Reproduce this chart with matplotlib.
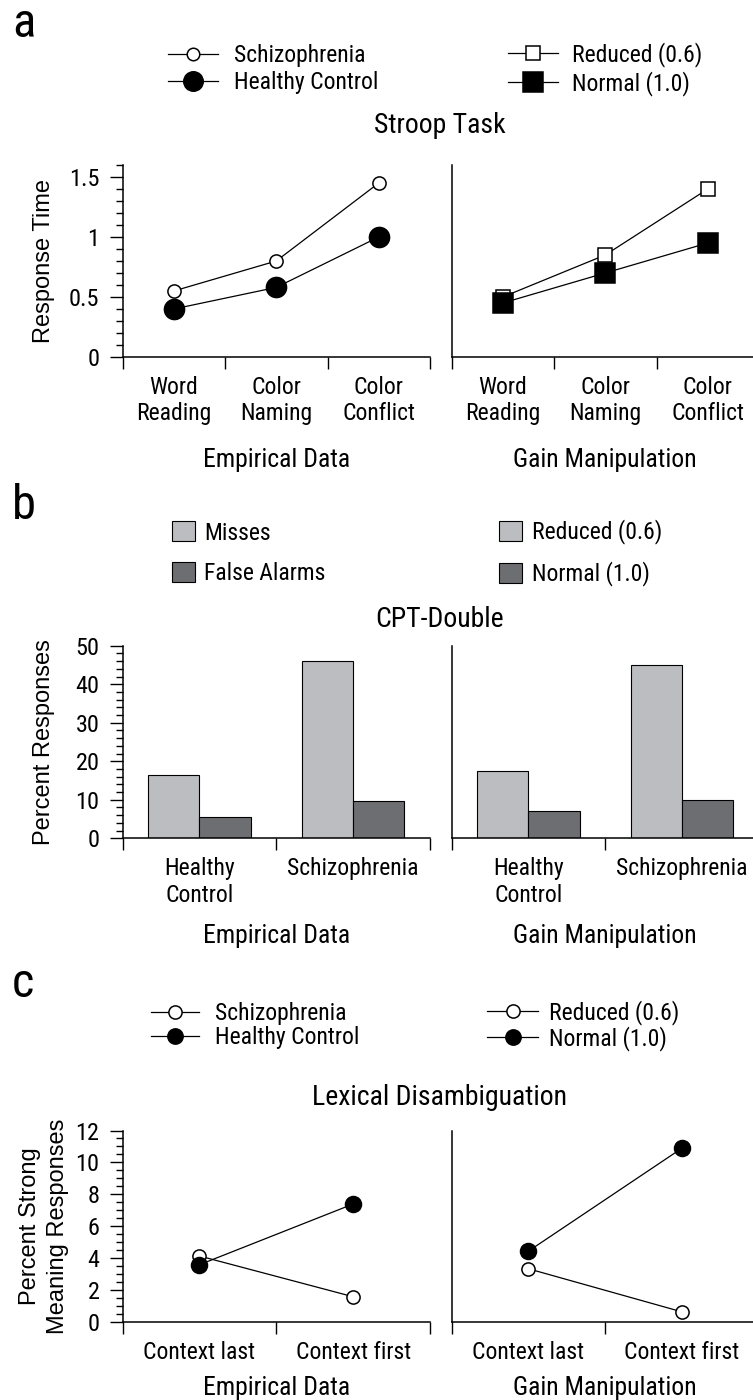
import matplotlib
matplotlib.use("Agg")
import matplotlib.pyplot as plt
from matplotlib import font_manager
from matplotlib.font_manager import FontProperties
from matplotlib.lines import Line2D
from matplotlib.patches import Patch
from matplotlib.ticker import MultipleLocator, FuncFormatter

# panel a: Stroop task
stroop_tasks = ["Word\nReading", "Color\nNaming", "Color\nConflict"]
stroop_schizophrenia = [0.55, 0.80, 1.45]
stroop_healthy = [0.40, 0.58, 1.00]
stroop_reduced = [0.50, 0.85, 1.40]
stroop_normal = [0.45, 0.70, 0.95]

# panel b: CPT-Double
cpt_groups = ["Healthy\nControl", "Schizophrenia"]
cpt_misses_empirical = [16.5, 46.0]
cpt_false_alarms_empirical = [5.5, 9.7]
cpt_misses_gain = [17.6, 45.0]
cpt_false_alarms_gain = [7.1, 10.0]

# panel c: lexical disambiguation
lexical_conditions = ["Context last", "Context first"]
lexical_schizophrenia = [4.15, 1.6]
lexical_healthy = [3.6, 7.4]
lexical_reduced = [3.35, 0.65]
lexical_normal = [4.45, 10.9]

FIG_W, FIG_H, DPI = 753, 1400, 100
AX_W = 307.5
LEFT_X = 122.5
RIGHT_X = 451.5
LIGHT = "#bcbdc0"
DARK = "#6d6e72"


def pick_font(names):
    for name in names:
        try:
            font_manager.findfont(FontProperties(family=name), fallback_to_default=False)
            return name
        except ValueError:
            continue
    return "DejaVu Sans"


NARROW = pick_font(["Roboto Condensed", "Archivo Narrow", "Liberation Sans Narrow", "DejaVu Sans"])
REGULAR = pick_font(["Liberation Sans", "DejaVu Sans"])
plt.rcParams["font.family"] = [NARROW, "DejaVu Sans"]


def fx(x):
    return x / FIG_W


def fy(y):
    return 1 - y / FIG_H


def add_axes(fig, x0, top, zero):
    return fig.add_axes([fx(x0), fy(zero), AX_W / FIG_W, (zero - top) / FIG_H])


def style_axes(ax, labels, ymax, major=None, minor=None, show_y=True):
    n = len(labels)
    ax.set_xlim(0, n)
    ax.set_ylim(0, ymax)
    for side in ("top", "right"):
        ax.spines[side].set_visible(False)
    for side in ("left", "bottom"):
        ax.spines[side].set_linewidth(1.1)
    ax.set_xticks(range(n + 1))
    ax.set_xticklabels([])
    ax.set_xticks([i + 0.5 for i in range(n)], labels, minor=True)
    ax.tick_params(axis="x", which="major", direction="out", length=8.5, width=1.0)
    ax.tick_params(axis="x", which="minor", length=0, pad=13.5, labelsize=17)
    if show_y:
        ax.yaxis.set_major_locator(MultipleLocator(major))
        ax.yaxis.set_minor_locator(MultipleLocator(minor))
        ax.yaxis.set_major_formatter(FuncFormatter(lambda v, _: f"{v:g}"))
        ax.tick_params(axis="y", which="major", direction="out", length=9.5, width=1.0, pad=7, labelsize=17.5)
        ax.tick_params(axis="y", which="minor", direction="out", length=5, width=1.0)
    else:
        ax.tick_params(axis="y", which="both", left=False, labelleft=False)
    ax.patch.set_alpha(0)


def line(ax, xs, ys, filled, marker, size):
    ax.plot(xs, ys, color="k", lw=0.9, marker=marker, ms=size,
            mfc="k" if filled else "white", mec="k", mew=1.1, clip_on=False, zorder=3)


def add_legend(fig, handles, labels, x, y, **kw):
    fig.legend(handles, labels, loc="center left", bbox_to_anchor=(fx(x), fy(y)),
               frameon=False, borderpad=0, borderaxespad=0, fontsize=17, **kw)


def mk(marker, filled, size):
    return Line2D([], [], color="k", lw=0.9, marker=marker, ms=size,
                  mfc="k" if filled else "white", mec="k", mew=1.1)


def text(fig, x, y, s, **kw):
    fig.text(fx(x), fy(y), s, **kw)


fig = plt.figure(figsize=(FIG_W / DPI, FIG_H / DPI), dpi=DPI)

# ---- a ----
centers3 = [i + 0.5 for i in range(len(stroop_tasks))]
ax = add_axes(fig, LEFT_X, 165, 357)
style_axes(ax, stroop_tasks, 1.6, 0.5, 0.1)
line(ax, centers3, stroop_schizophrenia, False, "o", 9.5)
line(ax, centers3, stroop_healthy, True, "o", 14.5)
ax = add_axes(fig, RIGHT_X, 165, 357)
style_axes(ax, stroop_tasks, 1.6, show_y=False)
line(ax, centers3, stroop_reduced, False, "s", 9.5)
line(ax, centers3, stroop_normal, True, "s", 14.5)

add_legend(fig, [mk("o", False, 9), mk("o", True, 14)], ["Schizophrenia", "Healthy Control"],
           168, 69, handlelength=2.1, handletextpad=0.68, labelspacing=0.17)
add_legend(fig, [mk("s", False, 9.5), mk("s", True, 14)], ["Reduced (0.6)", "Normal (1.0)"],
           508, 69, handlelength=2.1, handletextpad=0.6, labelspacing=0.17)

# ---- b ----
for x0, misses, fas, show in [(LEFT_X, cpt_misses_empirical, cpt_false_alarms_empirical, True),
                              (RIGHT_X, cpt_misses_gain, cpt_false_alarms_gain, False)]:
    ax = add_axes(fig, x0, 645.7, 838.3)
    style_axes(ax, cpt_groups, 50, 10, 2, show_y=show)
    idx = range(len(cpt_groups))
    ax.bar([i + 1 / 3 for i in idx], misses, width=1 / 3, color=LIGHT, edgecolor="k", lw=0.8, zorder=2)
    ax.bar([i + 2 / 3 for i in idx], fas, width=1 / 3, color=DARK, edgecolor="k", lw=0.8, zorder=2)

patch_kw = dict(handlelength=0.97, handleheight=0.93, labelspacing=0.72)
add_legend(fig, [Patch(fc=LIGHT, ec="k", lw=0.8), Patch(fc=DARK, ec="k", lw=0.8)],
           ["Misses", "False Alarms"], 172, 553, handletextpad=0.38, **patch_kw)
add_legend(fig, [Patch(fc=LIGHT, ec="k", lw=0.8), Patch(fc=DARK, ec="k", lw=0.8)],
           ["Reduced (0.6)", "Normal (1.0)"], 499, 553, handletextpad=0.42, **patch_kw)

# ---- c ----
centers2 = [i + 0.5 for i in range(len(lexical_conditions))]
ax = add_axes(fig, LEFT_X, 1130.5, 1322.3)
style_axes(ax, lexical_conditions, 12, 2, 0.5)
line(ax, centers2, lexical_schizophrenia, False, "o", 9.5)
line(ax, centers2, lexical_healthy, True, "o", 11.5)
ax = add_axes(fig, RIGHT_X, 1130.5, 1322.3)
style_axes(ax, lexical_conditions, 12, show_y=False)
line(ax, centers2, lexical_reduced, False, "o", 9.5)
line(ax, centers2, lexical_normal, True, "o", 11.5)

add_legend(fig, [mk("o", False, 9.5), mk("o", True, 11)], ["Schizophrenia", "Healthy Control"],
           151, 1025.5, handlelength=2.03, handletextpad=0.68, labelspacing=0.05)
add_legend(fig, [mk("o", False, 9.5), mk("o", True, 11)], ["Reduced (0.6)", "Normal (1.0)"],
           487, 1025.5, handlelength=2.16, handletextpad=0.47, labelspacing=0.05)

# ---- text ----
for letter, base in [("a", 37), ("b", 519), ("c", 997)]:
    text(fig, 12, base, letter, fontsize=35, va="baseline")
for title, base in [("Stroop Task", 133), ("CPT-Double", 627), ("Lexical Disambiguation", 1105)]:
    text(fig, 440, base, title, fontsize=20, ha="center", va="baseline")
for base in (466.5, 943, 1395):
    text(fig, LEFT_X + AX_W / 2, base, "Empirical Data", fontsize=18.5, ha="center", va="baseline")
    text(fig, RIGHT_X + AX_W / 2, base, "Gain Manipulation", fontsize=18.5, ha="center", va="baseline")
ylab = dict(rotation=90, ha="center", va="center", family=REGULAR, fontsize=17)
text(fig, 44, 261, "Response Time", **ylab)
text(fig, 44, 742, "Percent Responses", **ylab)
text(fig, 44, 1226, "Percent Strong\nMeaning Responses", linespacing=1.3, multialignment="center", **ylab)

fig.savefig("out.png", dpi=DPI)
